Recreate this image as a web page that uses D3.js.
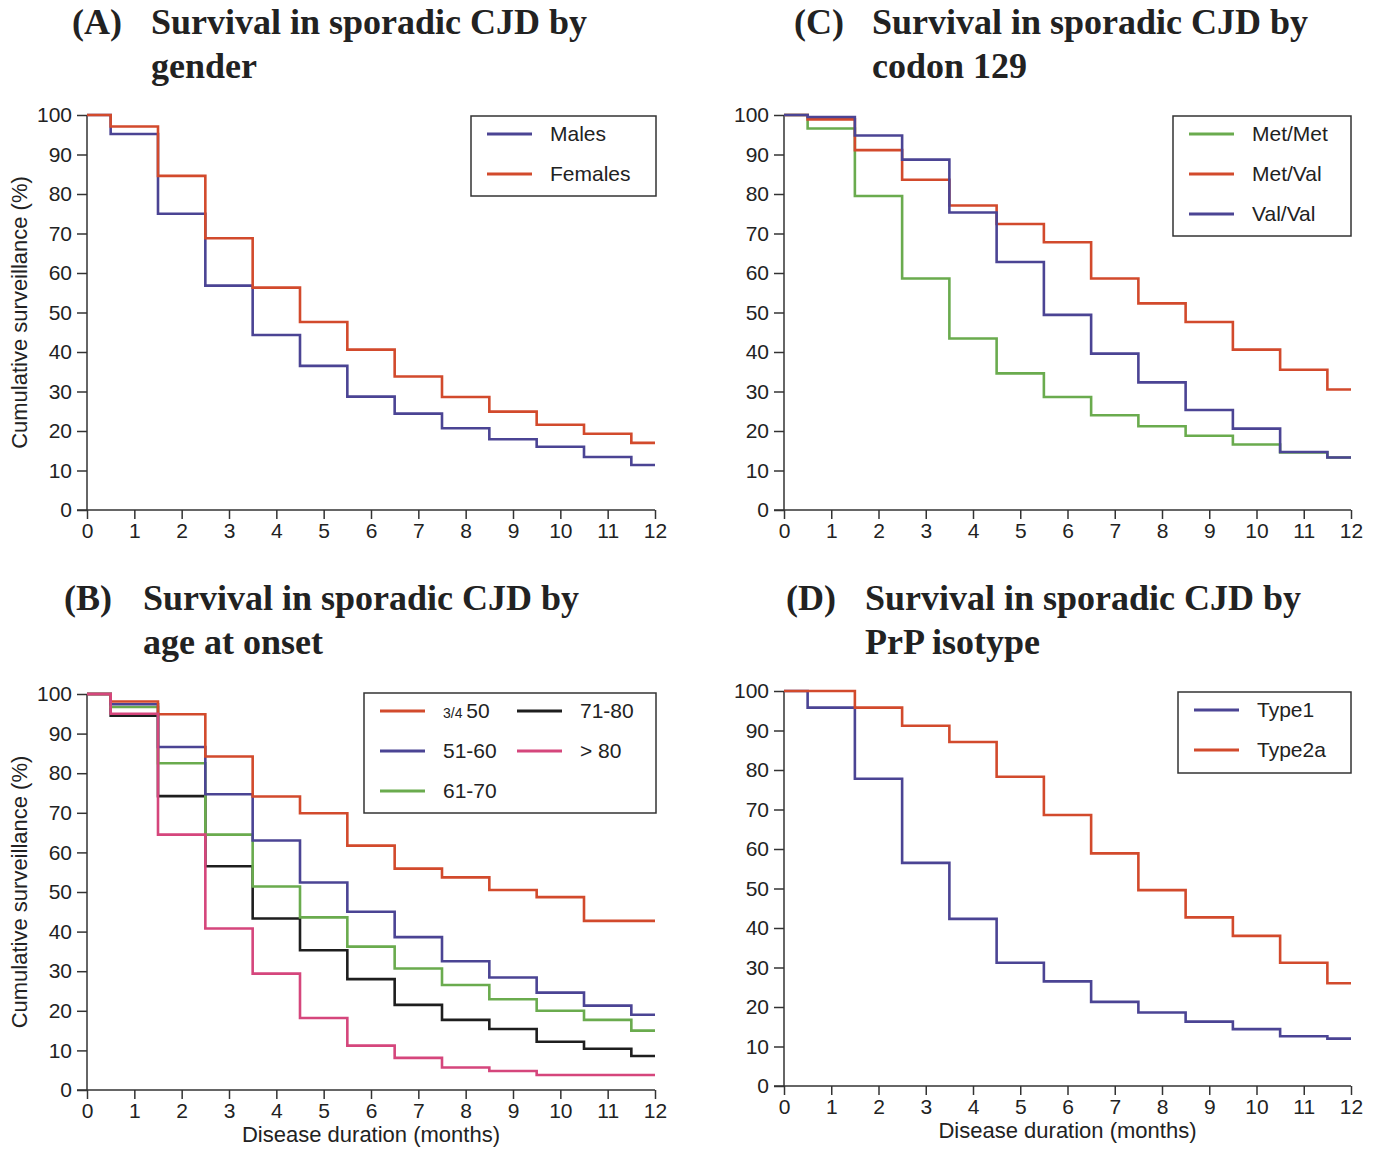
<!DOCTYPE html>
<html>
<head>
<meta charset="utf-8">
<script src="https://cdn.jsdelivr.net/npm/d3@7"></script>
<style>
  body { margin: 0; background: #fff; }
  svg text { font-family: "Liberation Sans", Arial, sans-serif; fill: #222; }
  .title { font-family: "Liberation Serif", "Times New Roman", serif; font-weight: bold; font-size: 36px; }
</style>
</head>
<body>
<svg id="chart" width="1375" height="1149"></svg>
<script>
// step start times (months) - each value holds until the next time
const stepTimes = [0, 0.5, 1.5, 2.5, 3.5, 4.5, 5.5, 6.5, 7.5, 8.5, 9.5, 10.5, 11.5];
const xTicks = [0, 1, 2, 3, 4, 5, 6, 7, 8, 9, 10, 11, 12];
const yTicks = [0, 10, 20, 30, 40, 50, 60, 70, 80, 90, 100];

// (A) gender
const males   = [100, 95.2, 75.0, 56.8, 44.3, 36.5, 28.7, 24.4, 20.7, 17.9, 16.0, 13.4, 11.4];
const females = [100, 97.1, 84.6, 68.8, 56.3, 47.6, 40.6, 33.8, 28.6, 24.9, 21.6, 19.3, 17.0];

// (C) codon 129
const metMet = [100, 96.6, 79.5, 58.6, 43.4, 34.6, 28.6, 24.0, 21.2, 18.8, 16.6, 14.6, 13.3];
const metVal = [100, 98.9, 91.1, 83.6, 77.1, 72.4, 67.8, 58.6, 52.3, 47.6, 40.6, 35.5, 30.5];
const valVal = [100, 99.5, 94.8, 88.7, 75.3, 62.8, 49.4, 39.6, 32.3, 25.3, 20.6, 14.7, 13.3];

// (B) age at onset
const age50   = [100, 98.1, 94.9, 84.2, 74.1, 69.9, 61.7, 55.9, 53.7, 50.5, 48.7, 42.7, 42.7];
const age5160 = [100, 97.4, 86.6, 74.7, 63.0, 52.4, 45.0, 38.6, 32.5, 28.4, 24.6, 21.3, 19.0];
const age6170 = [100, 96.7, 82.5, 64.5, 51.4, 43.6, 36.2, 30.7, 26.5, 22.9, 20.0, 17.7, 15.0];
const age7180 = [100, 94.5, 74.2, 56.5, 43.3, 35.3, 28.0, 21.5, 17.7, 15.4, 12.2, 10.4, 8.6];
const age80   = [100, 95.0, 64.5, 40.8, 29.4, 18.2, 11.2, 8.1, 5.7, 4.8, 3.8, 3.8, 3.8];

// (D) PrP isotype
const type1  = [100, 95.8, 77.8, 56.5, 42.3, 31.2, 26.5, 21.3, 18.6, 16.3, 14.4, 12.6, 12.0];
const type2a = [100, 100, 95.8, 91.2, 87.1, 78.3, 68.6, 58.9, 49.6, 42.7, 38.0, 31.2, 26.0];

const blue = "#4b4494", red = "#d24a2c", green = "#6aab4e", black = "#1e1e1e", pink = "#d5467c";

const svg = d3.select("#chart");

function panel(opt) {
    const g = svg.append("g");
    const x = d3.scaleLinear().domain([0, 12]).range([opt.x0, opt.x1]);
    const y = d3.scaleLinear().domain([0, 100]).range([opt.y0, opt.y1]);

    // titles
    g.append("text").attr("class", "title").attr("x", opt.tx).attr("y", opt.ty).text(opt.letter);
    opt.title.forEach((t, i) => {
        g.append("text").attr("class", "title")
            .attr("x", opt.tx2).attr("y", opt.ty + i * 44).text(t);
    });

    const xa = g.append("g").attr("transform", "translate(0," + opt.y0 + ")")
        .call(d3.axisBottom(x).tickValues(xTicks).tickSize(9).tickPadding(4).tickFormat(d3.format("d")));
    const ya = g.append("g").attr("transform", "translate(" + opt.x0 + ",0)")
        .call(d3.axisLeft(y).tickValues(yTicks).tickSize(10).tickPadding(5).tickFormat(d3.format("d")));
    [xa, ya].forEach(a => {
        a.select(".domain").attr("stroke", "#333").attr("stroke-width", 1.5);
        a.selectAll(".tick line").attr("stroke", "#333").attr("stroke-width", 1.5);
        a.selectAll(".tick text").attr("font-size", 21).attr("fill", "#222")
            .attr("font-family", "'Liberation Sans', Arial, sans-serif");
    });
    ya.select(".domain").attr("d", "M0," + opt.y0 + "V" + opt.y1);
    xa.select(".domain").attr("d", "M" + (opt.x0 - 10) + ",0H" + opt.x1);

    if (opt.ylabel) {
        g.append("text")
            .attr("transform", "translate(27," + ((opt.y0 + opt.y1) / 2) + ") rotate(-90)")
            .attr("text-anchor", "middle").attr("font-size", 22)
            .text("Cumulative surveillance (%)");
    }
    if (opt.xlabel) {
        g.append("text").attr("x", (opt.x0 + opt.x1) / 2).attr("y", opt.y0 + 52)
            .attr("text-anchor", "middle").attr("font-size", 22)
            .text("Disease duration (months)");
    }

    const line = d3.line().curve(d3.curveStepAfter).x(d => x(d[0])).y(d => y(d[1]));
    opt.series.forEach(s => {
        const pts = stepTimes.map((t, i) => [t, s.values[i]]);
        pts.push([12, s.values[s.values.length - 1]]);
        g.append("path").datum(pts).attr("d", line)
            .attr("fill", "none").attr("stroke", s.color).attr("stroke-width", 2.6);
    });

    // legend
    const L = opt.legend;
    g.append("rect").attr("x", L.x).attr("y", L.y).attr("width", L.w).attr("height", L.h)
        .attr("fill", "#fff").attr("stroke", "#333").attr("stroke-width", 1.5);
    L.items.forEach(it => {
        const ly = L.y + 18 + it.row * 40;
        const lx = L.x + 16 + it.col * L.colw;
        g.append("line").attr("x1", lx).attr("x2", lx + 45).attr("y1", ly).attr("y2", ly)
            .attr("stroke", it.color).attr("stroke-width", 3);
        const t = g.append("text").attr("x", lx + 63).attr("y", ly + 7).attr("font-size", 21);
        if (it.small) {
            t.append("tspan").attr("font-size", 14).text(it.small + " ");
        }
        t.append("tspan").text(it.label);
    });
}

panel({
    letter: "(A)", title: ["Survival in sporadic CJD by", "gender"], tx: 72, tx2: 151, ty: 34,
    x0: 87, x1: 655, y0: 510, y1: 115, ylabel: true,
    series: [{ values: males, color: blue }, { values: females, color: red }],
    legend: { x: 471, y: 116, w: 185, h: 80, colw: 0, items: [
        { label: "Males", color: blue, row: 0, col: 0 },
        { label: "Females", color: red, row: 1, col: 0 }] }
});

panel({
    letter: "(C)", title: ["Survival in sporadic CJD by", "codon 129"], tx: 794, tx2: 872, ty: 34,
    x0: 784, x1: 1351, y0: 510, y1: 115,
    series: [{ values: metMet, color: green }, { values: metVal, color: red }, { values: valVal, color: blue }],
    legend: { x: 1173, y: 116, w: 178, h: 120, colw: 0, items: [
        { label: "Met/Met", color: green, row: 0, col: 0 },
        { label: "Met/Val", color: red, row: 1, col: 0 },
        { label: "Val/Val", color: blue, row: 2, col: 0 }] }
});

panel({
    letter: "(B)", title: ["Survival in sporadic CJD by", "age at onset"], tx: 64, tx2: 143, ty: 610,
    x0: 87, x1: 655, y0: 1090, y1: 694, ylabel: true, xlabel: true,
    series: [{ values: age7180, color: black }, { values: age6170, color: green },
             { values: age5160, color: blue }, { values: age50, color: red }, { values: age80, color: pink }],
    legend: { x: 364, y: 693, w: 292, h: 120, colw: 137, items: [
        { label: "50", small: "3/4", color: red, row: 0, col: 0 },
        { label: "51-60", color: blue, row: 1, col: 0 },
        { label: "61-70", color: green, row: 2, col: 0 },
        { label: "71-80", color: black, row: 0, col: 1 },
        { label: "> 80", color: pink, row: 1, col: 1 }] }
});

panel({
    letter: "(D)", title: ["Survival in sporadic CJD by", "PrP isotype"], tx: 786, tx2: 865, ty: 610,
    x0: 784, x1: 1351, y0: 1086, y1: 691, xlabel: true,
    series: [{ values: type1, color: blue }, { values: type2a, color: red }],
    legend: { x: 1178, y: 692, w: 173, h: 81, colw: 0, items: [
        { label: "Type1", color: blue, row: 0, col: 0 },
        { label: "Type2a", color: red, row: 1, col: 0 }] }
});
</script>
</body>
</html>
